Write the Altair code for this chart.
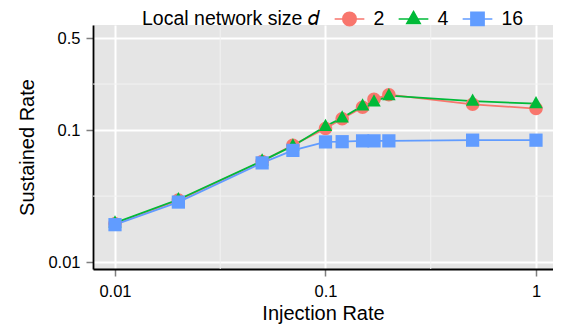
import altair as alt
import pandas as pd

# ---- data ----
injection = [0.01, 0.02, 0.05, 0.07, 0.1, 0.12, 0.15, 0.17, 0.2, 0.5, 1.0]
rate_d2 = [0.0195, 0.0295, 0.058, 0.077, 0.103, 0.122, 0.149, 0.172, 0.186, 0.157, 0.146]
rate_d4 = [0.0198, 0.0298, 0.0585, 0.076, 0.107, 0.124, 0.153, 0.164, 0.183, 0.166, 0.159]
rate_d16 = [0.0192, 0.0285, 0.0565, 0.0703, 0.0815, 0.0818, 0.083, 0.083, 0.083, 0.084, 0.084]
series_names = ["2", "4", "16"]
series_colors = ["#F8766D", "#00BA38", "#619CFF"]

x_major = [0.01, 0.1, 1]
y_major = [0.01, 0.1, 0.5]
x_minor = [10 ** -1.5, 10 ** -0.5]
y_minor = [10 ** -1.5, 10 ** -0.65]

rows = []
for name, vals in zip(series_names, [rate_d2, rate_d4, rate_d16]):
    for xv, yv in zip(injection, vals):
        rows.append({"x": xv, "y": yv, "d": name})
df = pd.DataFrame(rows)

# symbol paths: filled marker (+ a line segment that only shows when stroked, in the legend)
seg = " M-1.1,0H1.1"
circle = "M-0.5,0A0.5,0.5,0,1,0,0.5,0A0.5,0.5,0,1,0,-0.5,0Z"
triangle = "M0,-0.56L0.5,0.34L-0.5,0.34Z"
square = "M-0.49,-0.49H0.49V0.49H-0.49Z"
shapes = [circle, triangle, square]

xscale = alt.Scale(type="log", domain=[10 ** -2.1045, 10 ** 0.0808], nice=False)
yscale = alt.Scale(type="log", domain=[10 ** -2.053, 10 ** -0.202], nice=False)
cscale = alt.Scale(domain=series_names, range=series_colors)

font = "Liberation Sans"

common_axis = dict(
    grid=True, gridColor="white", gridWidth=2,
    domainColor="black", domainWidth=1.8,
    tickColor="#7F7F7F", tickWidth=1.5, tickSize=7,
    labelFontSize=16.5, labelColor="black",
    titleFontSize=20, titleFontWeight="normal", titleColor="black",
    labelFont=font, titleFont=font, format="~g",
)
xaxis = alt.Axis(values=x_major, title="Injection Rate", labelPadding=7,
                 titlePadding=3.5, **common_axis)
yaxis = alt.Axis(values=y_major, title="Sustained Rate", labelPadding=6,
                 titlePadding=10, **common_axis)

legend = alt.Legend(
    title="Local network size 𝑑", orient="none", legendX=49, legendY=-21,
    direction="horizontal", titleOrient="left", titleFontSize=19.5,
    titleAnchor="end", titleBaseline="bottom",
    titleFontWeight="normal", titleColor="black", titleFont=font, titleLimit=400,
    labelFontSize=19.5, labelColor="black", labelFont=font, labelOffset=9.5,
    columnPadding=10, titlePadding=15, symbolSize=729,
)

X = alt.X("x:Q", scale=xscale, axis=xaxis)
Y = alt.Y("y:Q", scale=yscale, axis=yaxis)

minor_x = alt.Chart(pd.DataFrame({"v": x_minor})).mark_rule(
    color="#F2F2F2", strokeWidth=1).encode(x=alt.X("v:Q", scale=xscale, axis=xaxis))
minor_y = alt.Chart(pd.DataFrame({"v": y_minor})).mark_rule(
    color="#F2F2F2", strokeWidth=1).encode(y=alt.Y("v:Q", scale=yscale, axis=yaxis))

base = alt.Chart(df)
layers = [minor_x, minor_y]
for name, col in zip(series_names, series_colors):
    layers.append(base.transform_filter(alt.datum.d == name)
                  .mark_line(color=col, strokeWidth=1.8).encode(x=X, y=Y))
for name, col, shp in zip(series_names, series_colors, shapes):
    layers.append(base.transform_filter(alt.datum.d == name)
                  .mark_point(filled=True, shape=shp, size=729, color=col, opacity=1,
                              strokeWidth=0).encode(x=X, y=Y))

# legend-only layer (no rows drawn)
legend_layer = base.transform_filter("false").mark_point(
    filled=True, size=729, opacity=1, strokeWidth=1.8).encode(
    x=X, y=Y,
    color=alt.Color("d:N", scale=cscale, legend=legend),
    stroke=alt.Stroke("d:N", scale=cscale, legend=legend),
    shape=alt.Shape("d:N", scale=alt.Scale(domain=series_names,
                                           range=[s + seg for s in shapes]),
                    legend=legend),
)
layers.append(legend_layer)

chart = alt.layer(*layers).properties(
    width=460, height=244,
    autosize=alt.AutoSizeParams(type="none"),
    padding={"left": 85, "top": 17, "right": 0, "bottom": 56},
).configure(font=font, view=alt.ViewConfig(fill="#E5E5E5", strokeWidth=0))

chart.save("out.html", embed_options={"renderer": "svg", "actions": False})
